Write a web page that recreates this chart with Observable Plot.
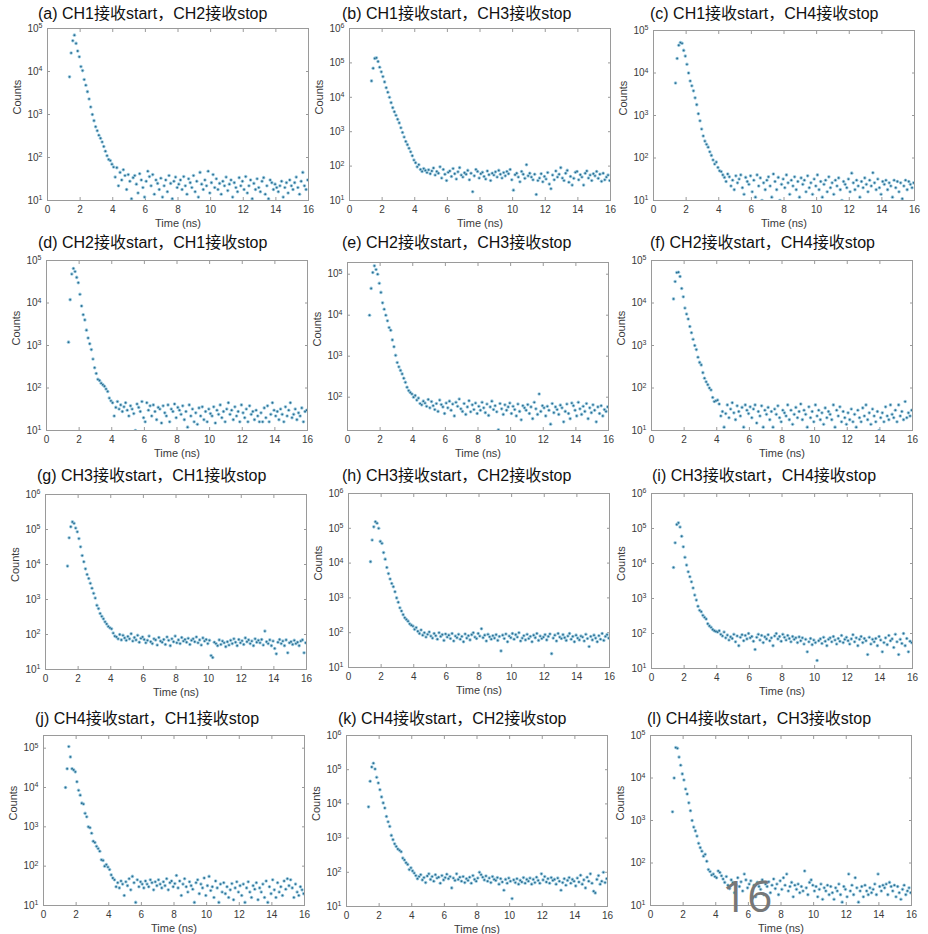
<!DOCTYPE html>
<html><head><meta charset="utf-8">
<script src="https://cdn.jsdelivr.net/npm/d3@7"></script>
<script src="https://cdn.jsdelivr.net/npm/@observablehq/plot@0.6"></script>
<style>
body{margin:0;background:#fff;}
#root{position:relative;width:928px;height:934px;overflow:hidden;background:#fff;font-family:"Liberation Sans","Noto Sans CJK SC",sans-serif;}
.title{position:absolute;font-size:16px;color:#111;white-space:nowrap;line-height:1;font-family:"Liberation Sans","Noto Sans CJK SC",sans-serif;}
.panel{position:absolute;}
.pagenum{position:absolute;font-size:44px;color:#777;line-height:1;font-family:"Open Sans","Liberation Sans",sans-serif;}
</style></head><body><div id="root"></div>
<script>
// time bins (ns)
const timeNs = [1.35,1.45,1.55,1.65,1.75,1.85,1.95,2.05,2.15,2.25,2.35,2.45,2.55,2.65,2.75,2.85,2.95,3.05,3.15,3.25,3.35,3.45,3.55,3.65,3.75,3.85,3.95,4.05,
4.15,4.25,4.35,4.45,4.55,4.65,4.75,4.85,4.95,5.05,
5.15,5.25,5.35,5.45,5.55,5.65,5.75,5.85,5.95,6.05,
6.15,6.25,6.35,6.45,6.55,6.65,6.75,6.85,6.95,7.05,
7.15,7.25,7.35,7.45,7.55,7.65,7.75,7.85,7.95,8.05,
8.15,8.25,8.35,8.45,8.55,8.65,8.75,8.85,8.95,9.05,
9.15,9.25,9.35,9.45,9.55,9.65,9.75,9.85,9.95,10.05,
10.15,10.25,10.35,10.45,10.55,10.65,10.75,10.85,10.95,11.05,
11.15,11.25,11.35,11.45,11.55,11.65,11.75,11.85,11.95,12.05,
12.15,12.25,12.35,12.45,12.55,12.65,12.75,12.85,12.95,13.05,
13.15,13.25,13.35,13.45,13.55,13.65,13.75,13.85,13.95,14.05,
14.15,14.25,14.35,14.45,14.55,14.65,14.75,14.85,14.95,15.05,
15.15,15.25,15.35,15.45,15.55,15.65,15.75,15.85,15.95];

const titles = ["(a) CH1接收start，CH2接收stop","(b) CH1接收start，CH3接收stop","(c) CH1接收start，CH4接收stop",
"(d) CH2接收start，CH1接收stop","(e) CH2接收start，CH3接收stop","(f) CH2接收start，CH4接收stop",
"(g) CH3接收start，CH1接收stop","(h) CH3接收start，CH2接收stop","(i) CH3接收start，CH4接收stop",
"(j) CH4接收start，CH1接收stop","(k) CH4接收start，CH2接收stop","(l) CH4接收start，CH3接收stop"];

const xTicks = [0,2,4,6,8,10,12,14,16];
const yMin = [10,10,10,10,15.4,10,10,10,10,10,10,10];
const yMax = [1e5,1e6,1e5,1e5,1.93e5,1e5,1e6,1e6,1e6,2.1e5,1e6,1e5];

const countsA = [7500,27000,52000,70000,45000,30000,22000,13000,10500,6500,4800,3400,2300,1500,1000,720,520,420,330,280,230,180,140,110,90,85,70,60,
35,58,22,45,30,52,38,18,40,28, 11,34,38,24,15,42,30,20,12,28, 48,36,22,40,14,30,25,18,33,12, 22,30,16,38,25,11,28,35,20,24,
30,18,36,22,14,32,26,20,38,16, 28,12,45,24,18,30,22,48,15,26, 40,20,32,18,25,14,28,22,35,17, 24,30,12,26,20,16,34,22,28,18,
36,15,22,30,11,25,18,32,20,16, 28,34,14,22,11,30,26,18,24,20, 16,22,28,12,20,26,15,30,22,18, 26,35,20,14,28,45,22,18,30];
const countsB = [30000,70000,135000,140000,110000,75000,55000,40000,28000,19000,14000,10000,7000,5000,3800,3000,2300,1800,1300,950,700,520,420,330,260,200,150,125,
95,110,80,70,85,75,65,78,60,72, 88,55,70,62,95,45,80,58,38,66, 72,50,85,60,42,68,90,55,48,64, 58,75,40,62,18,52,80,70,45,60,
66,50,42,72,56,38,62,55,68,48, 75,58,45,65,52,70,60,80,40,20, 56,62,48,35,70,58,44,110,52,62, 48,40,58,15,38,45,60,35,50,42,
65,30,22,55,40,72,48,58,90,45, 38,62,75,34,50,28,44,66,70,40, 56,48,28,62,72,45,55,38,60,52, 70,44,58,36,62,40,48,55,38];
const countsC = [5800,22000,45000,52000,50000,34000,25000,16000,10000,6500,5000,3800,2600,1800,1100,750,480,330,250,210,180,140,115,90,72,80,60,50,
48,40,35,28,42,36,22,30,18,38, 26,32,40,20,14,35,28,24,38,16, 30,12,40,22,34,10,26,18,30,36, 22,12,42,28,18,35,10,24,32,20,
40,26,14,30,22,36,18,28,12,34, 24,30,16,38,20,26,14,32,22,40, 18,28,12,24,30,16,36,20,26,14, 30,22,34,18,10,28,24,20,32,16,
44,26,18,30,22,12,28,20,34,24, 16,30,22,45,26,18,32,20,14,28, 24,30,18,26,22,12,30,20,28,16, 26,11,22,30,18,28,24,20,26];
const countsD = [1200,12000,48000,65000,55000,40000,30000,16000,8500,5300,4000,2300,1500,1100,800,480,300,220,160,150,130,120,110,95,83,58,50,45,
22,35,48,32,40,28,36,45,30,22, 38,32,25,10,42,35,28,48,20,16, 45,30,38,22,40,28,18,35,32,15, 38,26,22,40,16,32,28,42,20,35,
30,24,38,18,28,12,40,22,32,16, 26,14,34,22,36,18,28,16,32,25, 22,36,15,30,24,40,20,28,16,32, 45,24,30,18,36,22,28,16,40,26,
20,32,16,38,24,28,18,30,22,16, 26,16,34,20,38,16,24,45,30,22, 28,18,32,24,16,36,22,30,45,20, 24,32,18,26,22,34,16,28,30];
const countsE = [10000,45000,110000,160000,130000,100000,60000,36000,20000,14000,10000,7300,5000,4300,2500,1700,1050,700,550,450,370,290,230,175,145,130,120,100,
110,85,95,70,65,80,72,60,88,55, 78,62,50,70,45,85,66,58,40,72, 55,80,48,68,35,75,60,90,52,45, 70,38,58,82,44,65,50,72,40,60,
48,75,55,42,68,36,58,80,50,62, 44,16,70,52,38,65,48,58,72,40, 60,50,35,68,45,28,62,55,48,66, 40,58,30,75,52,38,120,45,62,55,
35,60,48,22,70,42,58,50,38,64, 55,25,45,68,40,30,72,62,48,35, 75,52,38,60,45,70,30,55,42,65, 48,25,58,40,62,35,50,45,58];
const countsF = [12500,32000,52000,53000,42000,22000,14000,7600,5500,4200,2800,2000,1400,1000,800,530,400,350,230,170,140,120,100,90,60,48,50,52,
42,22,28,12,25,40,20,32,45,26, 18,38,28,22,35,12,40,30,25,36, 20,32,40,15,28,22,38,12,30,24, 35,18,28,12,32,24,38,20,16,30,
26,22,40,18,30,14,24,35,20,28, 42,18,30,24,12,36,20,28,16,40, 22,30,18,26,14,34,20,28,24,18, 40,12,30,22,36,16,28,20,14,26,
18,32,16,24,12,30,20,16,34,22, 40,18,26,14,32,22,16,28,10,20, 26,16,36,22,18,40,24,20,30,16, 40,22,28,18,48,20,26,22,30];
const countsG = [9000,58000,120000,165000,150000,110000,86000,55000,32000,18000,12000,7500,5200,4000,2900,2100,1500,1100,680,550,400,330,280,230,200,170,155,145,
110,90,85,75,100,70,95,80,68,88, 75,105,65,82,70,95,60,78,85,72, 58,68,90,62,55,75,70,50,82,65, 60,72,52,85,68,48,75,62,90,58,
70,55,82,65,72,60,78,52,68,75, 62,85,58,70,50,80,65,72,55,68, 25,22,60,55,48,70,52,65,58,45, 62,50,68,55,75,60,48,72,58,66,
52,80,62,70,55,65,48,75,60,68, 58,72,50,125,62,55,70,48,65,40, 28,60,72,55,65,48,70,30,58,62, 52,68,55,60,48,65,70,30,58];
const countsH = [11000,46000,110000,155000,140000,100000,42000,37000,20000,13000,7500,5000,3500,2600,2100,1500,1000,750,520,420,330,270,240,215,180,165,155,125,
140,110,95,120,85,100,75,90,105,80, 70,95,82,65,100,78,88,60,92,75, 85,68,95,58,80,72,90,65,78,55, 92,70,82,62,88,100,75,68,95,80,
130,72,85,58,90,76,65,82,70,88, 60,78,30,85,68,92,55,80,72,95, 65,88,75,100,58,70,82,62,90,68, 78,55,85,72,95,60,80,68,75,88,
62,78,92,25,70,85,58,95,75,68, 88,72,60,80,95,65,78,55,85,70, 62,80,75,58,90,68,40,78,62,85, 70,55,82,65,95,60,78,88,70];
const countsI = [7700,39000,130000,145000,110000,60000,30000,15000,9000,5800,4200,3000,2000,1250,900,600,460,420,330,290,260,190,165,150,130,120,115,110,
120,95,85,110,75,90,65,80,72,95, 58,85,45,78,92,62,88,70,100,75, 82,60,35,78,95,65,88,55,80,70, 92,62,75,45,85,100,70,82,60,95,
78,65,88,72,58,82,68,75,55,80, 62,75,50,68,30,58,72,48,65,55, 17,62,70,52,78,60,45,68,75,58, 82,65,50,72,60,88,55,68,78,62,
50,70,92,58,75,45,68,82,55,72, 62,25,78,50,68,58,72,45,82,65, 30,55,75,48,88,62,70,40,95,58, 25,68,52,100,45,72,30,60,55];
const countsJ = [10000,30000,110000,60000,30000,28000,25000,14000,8500,6400,4000,3800,2200,1800,1000,950,690,430,400,320,280,240,145,140,100,110,95,82,
60,50,45,30,38,28,42,35,18,40, 32,48,25,55,38,12,45,30,40,35, 28,42,35,30,45,38,25,40,32,45, 35,28,40,32,48,25,38,42,30,36,
58,28,42,18,35,48,30,22,40,32, 26,12,38,45,20,35,28,50,18,32, 55,24,30,16,42,28,12,35,22,38, 20,30,16,25,36,14,28,40,22,32,
18,35,12,28,40,22,16,32,26,38, 14,28,22,35,16,42,12,30,20,45, 25,16,38,22,30,18,42,26,48,32, 45,28,16,35,22,18,30,25,20];
const countsK = [8200,46000,120000,155000,105000,60000,41000,26000,16000,10700,7600,4300,3000,2200,1200,900,680,570,480,440,400,260,230,190,170,120,135,110,
95,80,65,75,85,60,70,50,78,90, 62,75,55,85,68,72,48,80,60,70, 88,65,75,35,68,58,90,62,72,55, 75,50,65,58,72,48,80,62,55,68,
100,85,72,60,78,55,68,50,75,62, 58,70,45,65,52,30,62,48,68,55, 17,60,50,65,45,58,52,70,48,62, 55,68,45,62,50,72,58,48,90,60,
75,52,65,48,70,58,62,45,68,55, 30,50,65,42,58,70,48,62,55,40, 68,52,82,45,60,35,72,55,90,48, 28,25,62,80,45,55,100,50,65];
const countsL = [1600,10000,52000,50000,31000,20000,12500,9000,5500,4200,2600,1700,1000,700,570,430,290,230,190,145,160,110,70,63,52,55,48,45,
65,60,50,42,35,48,30,25,40,35, 20,30,45,28,36,22,55,40,26,32, 38,22,30,16,35,28,24,40,18,32, 28,36,20,30,42,25,32,18,38,24,
45,30,55,22,28,35,16,30,24,32, 20,28,22,65,26,18,35,40,30,22, 28,16,24,32,14,26,22,30,18,28, 20,14,26,22,32,18,12,28,24,16,
55,22,30,18,45,26,12,22,28,16, 30,22,18,26,20,24,32,18,55,28, 22,30,26,32,18,35,28,22,30,16, 28,20,14,24,30,18,22,26,20];

const allCounts = [countsA,countsB,countsC,countsD,countsE,countsF,countsG,countsH,countsI,countsJ,countsK,countsL];

// layout (frame left, frame top, frame height) and title positions
const frames = [[47,28,172],[349,28,172],[653,30,170],[46,260,170],[347,262,168],[651,260,170],[45,494,175],[348,493,174],[651,493,175],[43,735,170],[346,735,171],[650,735,170]];
const titlePos = [[38,14],[342,14],[650,14],[38,243],[342,243],[650,243],[37,476],[342,476],[652,476],[35,719],[338,719],[647,719]];

const root = document.getElementById("root");
const ML = 42, MR = 12, MT = 10, MB = 34, FW = 261;

allCounts.forEach((counts, i) => {
  const data = counts.map((c, k) => ({t: timeNs[k], c})).filter(d => d.t !== undefined && d.c > 0);
  const [fl, ft, fh] = frames[i];
  const lo = Math.ceil(Math.log10(yMin[i]) - 1e-9), hi = Math.floor(Math.log10(yMax[i]) + 1e-9);
  const yTicks = d3.range(lo, hi + 1).map(e => Math.pow(10, e));
  const chart = Plot.plot({
    width: ML + FW + MR,
    height: MT + fh + MB,
    marginLeft: ML, marginRight: MR, marginTop: MT, marginBottom: MB,
    style: {fontFamily: "Liberation Sans, Arial, sans-serif", fontSize: "10px", color: "#3a3a3a", background: "transparent", overflow: "visible"},
    x: {domain: [0, 16]},
    y: {type: "log", domain: [yMin[i], yMax[i]]},
    marks: [
      Plot.frame({stroke: "#9a9a9a", strokeWidth: 1}),
      Plot.axisX({ticks: xTicks, tickSize: -3, tickPadding: 8, stroke: "#9a9a9a", label: null, tickFormat: d3.format("d"), fill: "#3a3a3a"}),
      Plot.axisX({anchor: "top", ticks: xTicks, tickSize: -3, stroke: "#9a9a9a", label: null, tickFormat: () => ""}),
      Plot.axisY({ticks: yTicks, tickSize: -3, tickPadding: 8, stroke: "#9a9a9a", label: null, tickFormat: d => "10^" + Math.round(Math.log10(d)), fill: "#3a3a3a"}),
      Plot.axisY({anchor: "right", ticks: yTicks, tickSize: -3, stroke: "#9a9a9a", label: null, tickFormat: () => ""}),
      Plot.dot(data, {x: "t", y: "c", r: 1.8, fill: "#9ccbe0", clip: true}),
      Plot.dot(data, {x: "t", y: "c", r: 0.9, fill: "#2b6d90", clip: true}),
      Plot.text(["Counts"], {frameAnchor: "left", dx: -30, rotate: -90, fontSize: 11, fill: "#3a3a3a"}),
      Plot.text(["Time (ns)"], {frameAnchor: "bottom", lineAnchor: "middle", dy: 23, fontSize: 11, fill: "#3a3a3a"})
    ]
  });
  // superscript exponents
  chart.querySelectorAll("text").forEach(t => {
    const s = t.textContent;
    if (s.startsWith("10^")) {
      const exp = s.slice(3);
      t.textContent = "";
      const a = document.createElementNS("http://www.w3.org/2000/svg", "tspan");
      a.textContent = "10";
      const b = document.createElementNS("http://www.w3.org/2000/svg", "tspan");
      b.textContent = exp;
      b.setAttribute("dy", "-0.5em");
      b.setAttribute("font-size", "7");
      t.appendChild(a); t.appendChild(b);
    }
  });
  const wrap = document.createElement("div");
  wrap.className = "panel";
  wrap.style.left = (fl - ML) + "px";
  wrap.style.top = (ft - MT) + "px";
  wrap.appendChild(chart);
  root.appendChild(wrap);

  const tt = document.createElement("div");
  tt.className = "title";
  tt.textContent = titles[i];
  tt.style.left = titlePos[i][0] + "px";
  tt.style.top = (titlePos[i][1] - 8) + "px";
  root.appendChild(tt);
});

const pn = document.createElement("div");
pn.className = "pagenum";
pn.textContent = "16";
pn.style.left = "722px";
pn.style.top = "873px";
root.appendChild(pn);
</script>
</body></html>
